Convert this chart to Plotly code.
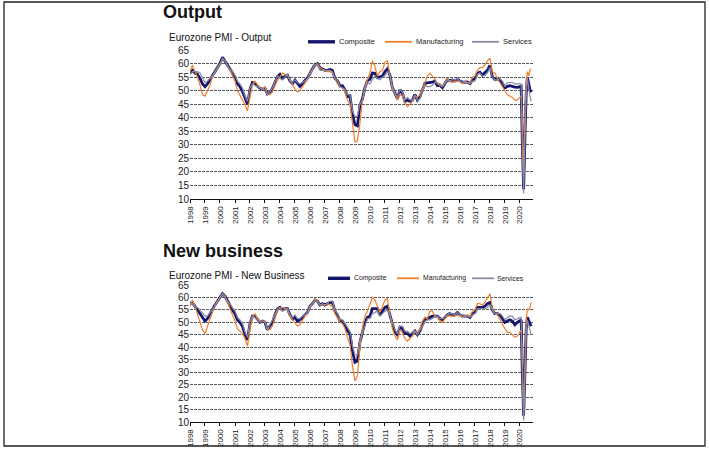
import pandas as pd
import plotly.graph_objects as go

# bi-monthly points 1998-2019 (Jan, Mar, May, Jul, Sep, Nov), then monthly for 2020
dates = list(pd.date_range('1998-01-01', '2019-11-01', freq='2MS')) + \
    list(pd.date_range('2020-01-01', '2020-10-01', freq='MS'))
years = [str(y) for y in range(1998, 2021)]

# Output
out_composite = [
    56.5, 57.5, 56.5, 56.0, 54.5, 52.5,
    51.5, 52.5, 54.0, 55.5, 57.0, 58.5,
    60.0, 62.3, 61.0, 59.5, 58.0, 56.5,
    55.0, 52.5, 51.5, 49.8, 47.0, 45.0,
    50.5, 53.0, 52.5, 51.6, 50.9, 50.5,
    50.8, 48.8, 49.4, 50.8, 53.0, 55.2,
    56.0, 54.5, 55.2, 55.7, 53.6, 52.6,
    53.9, 52.7, 51.6, 52.5, 53.8, 54.6,
    56.5, 58.0, 59.5, 60.0, 58.5, 58.0,
    57.5, 57.5, 57.8, 57.5, 54.5, 53.7,
    51.7, 51.8, 50.4, 47.9, 48.1, 41.2,
    37.5, 37.0, 44.4, 47.0, 51.1, 53.7,
    54.2, 56.5, 56.4, 54.8, 55.0, 55.4,
    57.0, 58.0, 55.8, 51.1, 49.1, 47.0,
    50.4, 49.1, 46.0, 46.5, 46.1, 46.5,
    48.6, 46.5, 47.7, 50.5, 52.7, 52.9,
    52.9, 53.1, 53.5, 51.8, 52.0, 51.1,
    52.6, 54.0, 53.6, 53.9, 53.6, 54.2,
    53.6, 53.1, 53.1, 53.2, 52.6, 53.9,
    54.4, 56.4, 56.8, 55.7, 56.7, 57.5,
    59.3, 55.2, 54.1, 54.3, 53.8, 52.7,
    51.0, 51.6, 51.8, 51.5, 51.3, 51.2,
    51.3, 51.6, 29.7, 13.6, 31.9, 48.5, 54.9, 51.9, 50.4, 49.4,
]
out_manufacturing = [
    57.0, 59.5, 57.0, 55.0, 52.0, 48.5,
    48.0, 50.0, 52.0, 55.0, 57.0, 58.5,
    60.0, 61.5, 61.0, 59.5, 57.5, 55.5,
    53.5, 50.0, 48.0, 46.5, 45.0, 42.5,
    47.5, 52.0, 53.5, 52.0, 51.0, 50.5,
    51.5, 49.0, 48.5, 49.5, 51.5, 54.0,
    55.0, 56.5, 56.0, 55.5, 54.0, 52.0,
    50.5, 49.5, 50.0, 51.5, 53.0, 54.0,
    56.5, 58.0, 59.5, 60.0, 58.5, 58.0,
    57.5, 57.0, 57.0, 56.5, 54.5, 52.5,
    51.5, 51.0, 49.5, 46.5, 45.0, 37.5,
    31.0, 31.5, 38.0, 46.5, 51.5, 54.0,
    56.5, 61.0, 59.0, 55.5, 57.0, 57.5,
    60.5, 61.0, 55.5, 50.5, 49.0, 46.5,
    48.5, 48.0, 45.5, 44.0, 45.0, 46.0,
    48.0, 47.5, 48.5, 50.5, 53.0, 55.5,
    56.5, 55.5, 54.0, 52.5, 52.0, 51.5,
    53.0, 54.5, 53.5, 53.0, 53.5, 53.5,
    53.5, 52.5, 53.0, 53.0, 53.0, 55.0,
    55.5, 57.5, 58.5, 58.5, 59.5, 61.0,
    62.0, 57.0, 56.5, 54.5, 53.0, 51.5,
    50.0, 48.5, 48.0, 47.5, 46.5, 46.5,
    47.5, 48.0, 38.5, 18.5, 40.0, 52.5, 57.0, 55.5, 57.5, 58.0,
]
out_services = [
    56.0, 57.0, 57.0, 57.0, 56.5, 55.0,
    53.0, 53.5, 54.5, 55.5, 57.0, 58.5,
    59.5, 62.0, 61.0, 59.0, 58.0, 57.0,
    55.5, 53.5, 52.5, 51.0, 48.0, 46.0,
    51.0, 52.5, 52.0, 51.5, 51.0, 50.5,
    50.5, 48.5, 49.5, 51.0, 53.5, 55.5,
    54.5, 54.0, 55.0, 56.0, 53.5, 53.0,
    54.0, 53.0, 52.5, 53.0, 53.5, 54.5,
    56.0, 57.5, 59.5, 59.5, 57.5, 57.5,
    57.5, 57.5, 57.5, 57.0, 54.5, 54.0,
    51.5, 51.0, 50.5, 48.5, 48.5, 42.5,
    40.5, 40.5, 45.0, 46.5, 50.5, 53.0,
    52.5, 54.0, 55.5, 54.5, 54.0, 55.0,
    55.5, 57.0, 56.0, 51.5, 49.0, 47.5,
    50.5, 49.5, 46.5, 47.5, 46.5, 46.5,
    48.5, 46.5, 47.0, 49.5, 52.0, 51.5,
    51.5, 52.0, 53.0, 53.0, 52.5, 51.5,
    52.5, 54.0, 53.5, 54.0, 54.0, 54.5,
    53.5, 53.0, 53.5, 53.0, 52.5, 53.5,
    53.5, 56.0, 56.5, 55.5, 55.5, 56.5,
    58.5, 55.0, 54.0, 54.0, 54.5, 53.5,
    51.5, 53.0, 53.0, 53.0, 52.5, 52.5,
    52.5, 52.5, 26.5, 12.0, 30.5, 48.3, 54.7, 50.5, 48.0, 46.0,
]

# New business
nb_composite = [
    57.5, 58.0, 56.5, 55.0, 53.5, 51.5,
    50.5, 51.5, 53.5, 55.0, 57.0, 58.5,
    60.0, 61.5, 60.5, 58.5, 56.5, 55.0,
    53.5, 51.0, 50.0, 48.5, 45.0, 43.0,
    49.5, 52.5, 52.5, 51.0, 50.0, 50.5,
    50.0, 47.0, 48.5, 50.0, 53.0, 55.5,
    56.0, 55.0, 55.5, 55.5, 53.0, 51.5,
    52.0, 50.5, 51.0, 52.0, 53.0, 54.0,
    56.5, 57.5, 59.0, 58.5, 57.0, 57.5,
    57.0, 57.5, 58.0, 58.0, 54.5, 53.0,
    50.5, 50.5, 49.0, 46.5, 45.5, 38.5,
    34.0, 34.5, 42.0, 46.0, 50.0, 52.0,
    52.5, 55.5, 55.5, 55.5, 53.0, 54.5,
    56.0, 56.5, 53.0, 49.5, 46.0, 45.0,
    48.0, 47.5, 45.5, 45.5, 44.5, 45.5,
    46.5, 45.0, 46.5, 49.0, 51.0, 51.5,
    52.0, 52.5, 52.5, 52.5, 51.5, 51.0,
    52.0, 53.0, 53.5, 53.0, 53.0, 54.0,
    53.0, 52.5, 52.5, 52.5, 52.0, 53.5,
    54.0, 56.0, 56.0, 56.0, 56.5, 57.5,
    58.0, 55.0, 53.5, 53.5, 53.0, 51.5,
    50.0, 50.5, 51.0, 50.5, 49.0, 50.0,
    50.5, 51.0, 28.5, 12.5, 29.5, 47.0, 52.0, 50.5, 49.5, 48.5,
]
nb_manufacturing = [
    56.5, 59.0, 56.5, 53.5, 50.5, 47.0,
    45.5, 48.5, 51.5, 54.5, 57.0, 58.5,
    60.0, 61.5, 60.5, 58.0, 55.5, 53.5,
    50.5, 47.5, 46.5, 45.5, 43.5, 40.5,
    47.0, 52.0, 53.5, 51.5, 50.5, 50.5,
    50.5, 47.5, 47.0, 48.5, 51.5, 54.5,
    55.5, 56.0, 55.5, 55.0, 52.5, 51.0,
    50.0, 48.5, 49.0, 51.0, 52.5, 53.5,
    56.0, 57.5, 59.5, 58.5, 57.0, 57.0,
    57.0, 57.5, 57.0, 56.5, 53.5, 51.5,
    50.0, 49.5, 47.5, 44.0, 41.0, 32.5,
    26.5, 28.5, 40.0, 47.5, 52.5, 54.5,
    57.0, 60.0, 59.0, 56.5, 54.0, 56.5,
    59.0, 59.5, 52.5, 47.5, 44.5, 43.0,
    47.0, 46.0, 43.5, 42.5, 43.5, 44.5,
    46.5, 46.0, 47.5, 50.5, 52.0, 51.5,
    54.5, 54.5, 52.5, 52.0, 50.5, 50.0,
    51.5, 52.5, 52.5, 52.5, 52.5, 53.0,
    52.5, 52.0, 52.5, 53.0, 52.5, 54.5,
    55.0, 57.5, 57.5, 57.0, 58.0, 60.0,
    61.5, 55.5, 53.5, 53.0, 51.0, 49.5,
    47.5, 46.0, 46.0, 45.0, 44.0, 44.5,
    46.5, 47.0, 37.0, 12.5, 31.0, 50.5, 55.5, 55.0, 56.0, 58.0,
]
nb_services = [
    57.5, 57.5, 56.5, 56.0, 55.0, 53.5,
    52.5, 52.5, 54.0, 55.0, 56.5, 58.0,
    59.5, 61.5, 60.0, 58.5, 57.0, 55.5,
    54.5, 52.0, 51.0, 49.5, 46.0, 44.0,
    50.5, 52.5, 52.0, 51.0, 50.0, 50.5,
    50.0, 47.0, 49.0, 50.5, 53.0, 55.5,
    56.0, 54.5, 55.0, 55.5, 53.0, 52.0,
    53.0, 51.5, 51.5, 52.5, 53.0, 54.0,
    56.5, 57.5, 58.5, 58.5, 57.0, 57.5,
    57.0, 57.5, 58.5, 58.5, 55.0, 53.5,
    51.0, 51.0, 49.5, 47.5, 46.5, 40.5,
    37.0, 37.0, 43.0, 45.5, 49.0, 51.5,
    51.5, 53.5, 54.0, 54.5, 52.5, 53.5,
    54.5, 55.0, 53.0, 50.0, 47.0, 45.5,
    48.5, 48.5, 46.5, 46.5, 45.5, 46.0,
    46.5, 45.0, 46.5, 48.5, 50.5, 51.0,
    51.0, 51.5, 52.5, 52.5, 51.5, 51.5,
    52.5, 53.0, 53.5, 53.5, 53.0, 54.0,
    53.0, 52.5, 52.5, 52.5, 52.0, 53.0,
    53.5, 55.5, 55.5, 55.5, 55.5, 56.0,
    57.0, 55.0, 53.5, 53.5, 53.5, 52.5,
    51.0, 52.0, 52.5, 52.5, 51.0, 51.5,
    52.0, 52.0, 26.5, 10.5, 27.5, 45.5, 51.0, 49.0, 46.5, 45.0,
]

W, H = 710, 450
FONT = 'Liberation Sans, Arial, sans-serif'
series_style = [
    ('Composite', '#15156e', 2.8),
    ('Manufacturing', '#f07f2d', 1.2),
    ('Services', '#868aa4', 1.2),
]


def px_x(x):
    return x / W


def px_y(y):
    return 1 - y / H


def add_panel(fig, values, xaxis, yaxis):
    for (name, color, width), ys in zip(series_style, values):
        fig.add_trace(go.Scatter(x=dates, y=ys, mode='lines', name=name,
                                 line=dict(color=color, width=width),
                                 xaxis=xaxis, yaxis=yaxis, showlegend=False))


def add_key(fig, y, starts, length, font_size):
    # small legend drawn by hand: line sample then the series name
    for (name, color, width), x0 in zip(series_style, starts):
        fig.add_shape(type='line', xref='paper', yref='paper',
                      x0=px_x(x0), x1=px_x(x0 + length), y0=px_y(y), y1=px_y(y),
                      line=dict(color=color, width=width + 0.6))
        fig.add_annotation(text=name, xref='paper', yref='paper',
                           x=px_x(x0 + length + 1.5), y=px_y(y),
                           xanchor='left', yanchor='middle', showarrow=False,
                           font=dict(size=font_size, color='#222', family=FONT))


fig = go.Figure()
add_panel(fig, [out_composite, out_manufacturing, out_services], 'x', 'y')
add_panel(fig, [nb_composite, nb_manufacturing, nb_services], 'x2', 'y2')

xaxis_style = dict(range=['1998-01-01', '2020-11-15'], tickmode='array',
                   tickvals=[y + '-01-01' for y in years], ticktext=years,
                   tickangle=-90, tickfont=dict(size=8, color='#222'),
                   showline=True, linecolor='#111', linewidth=1,
                   ticks='outside', ticklen=3, tickcolor='#111',
                   showgrid=False, zeroline=False, automargin=False)
yaxis_style = dict(range=[10, 65], tickmode='array', tickvals=list(range(10, 70, 5)),
                   tickfont=dict(size=10, color='#222'), showline=False,
                   showgrid=True, gridcolor='#5a5a5a', gridwidth=1, griddash='3px,1px',
                   zeroline=False, ticks='', automargin=False)

fig.update_layout(
    template='none',
    width=W, height=H, autosize=False, showlegend=False,
    margin=dict(l=0, r=0, t=0, b=0, pad=0, autoexpand=False),
    paper_bgcolor='white', plot_bgcolor='white',
    font=dict(family=FONT, color='#111'),
    xaxis=dict(domain=[px_x(190), px_x(533)], anchor='y', **xaxis_style),
    yaxis=dict(domain=[px_y(199), px_y(50)], anchor='x', **yaxis_style),
    xaxis2=dict(domain=[px_x(190), px_x(533)], anchor='y2', **xaxis_style),
    yaxis2=dict(domain=[px_y(422), px_y(285)], anchor='x2', **yaxis_style),
    shapes=[dict(type='rect', xref='paper', yref='paper',
                 x0=px_x(4), x1=px_x(705), y0=px_y(446), y1=px_y(2),
                 line=dict(color='#222', width=1.3))],
)

add_key(fig, 41.8, [308, 385, 472], 27, 7.5)
add_key(fig, 278.3, [328, 397, 472], 22, 6.8)

titles = [
    ('<b>Output</b>', 161, 12, 18),
    ('Eurozone PMI - Output', 167, 38, 10),
    ('<b>New business</b>', 161, 251, 18),
    ('Eurozone PMI - New Business', 167, 275, 10),
]
for text, x, y, size in titles:
    fig.add_annotation(text=text, xref='paper', yref='paper', x=px_x(x), y=px_y(y),
                       xanchor='left', yanchor='middle', showarrow=False,
                       font=dict(size=size, color='#111', family=FONT))

# the page body has a default 8px margin, drop it so the figure sits at 0,0
fig.write_html('out.html', config={'displayModeBar': False},
               post_script="document.body.style.margin='0';")
